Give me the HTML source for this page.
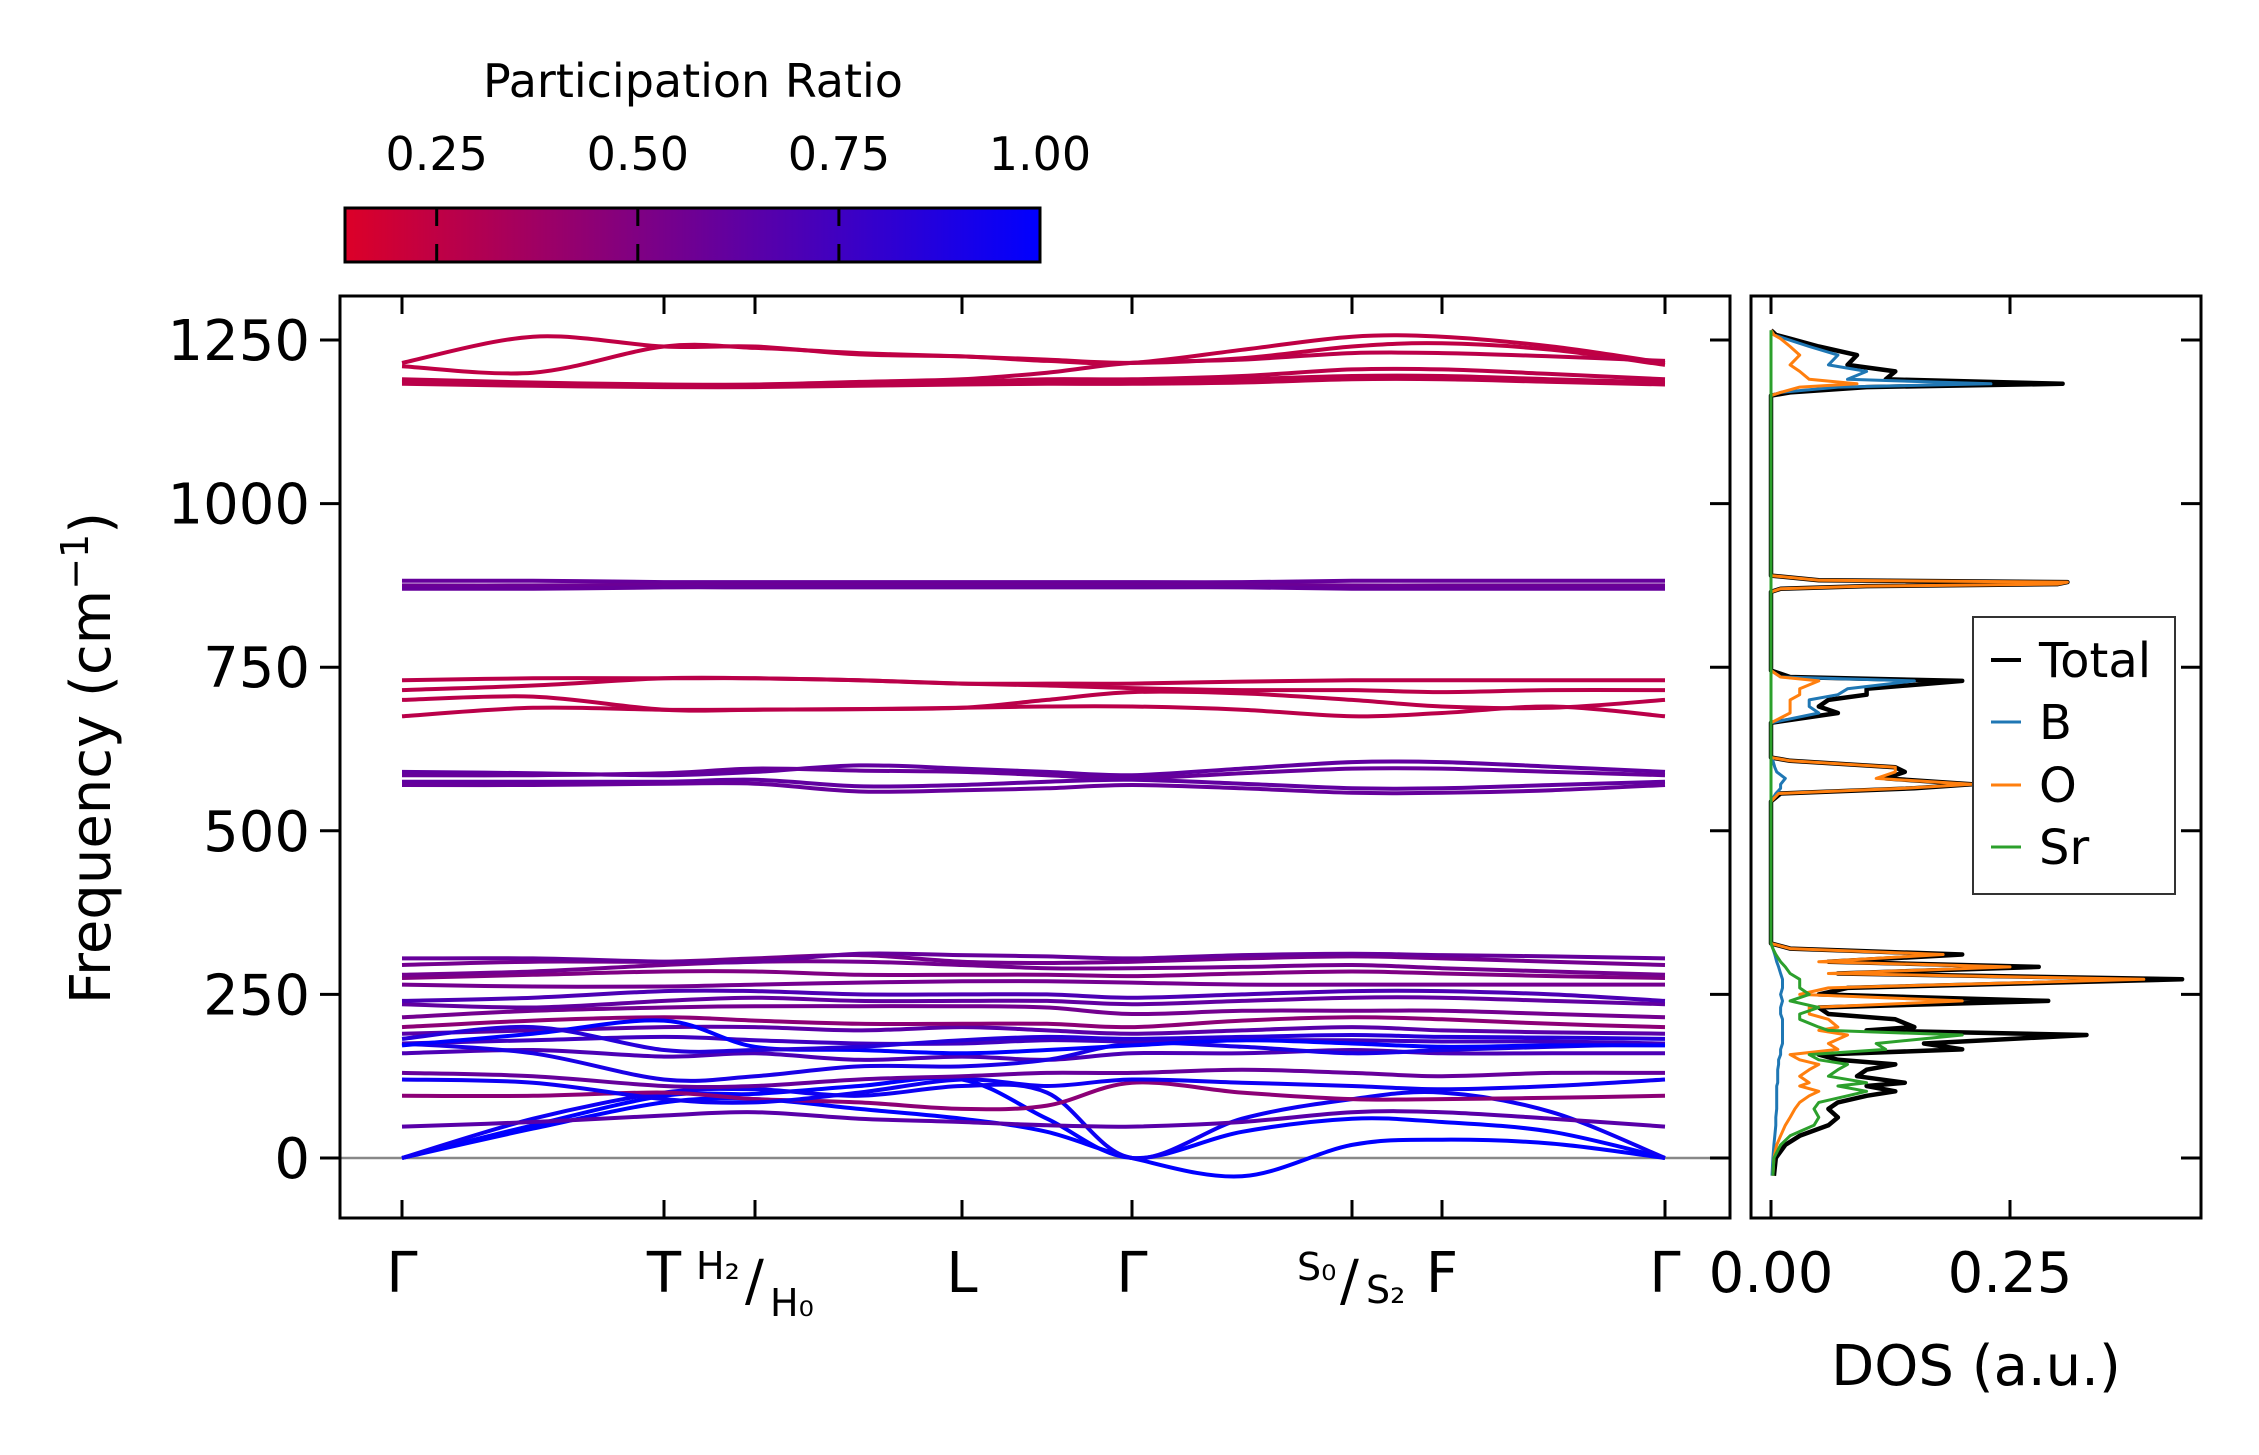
<!DOCTYPE html>
<html><head><meta charset="utf-8"><style>
html,body{margin:0;padding:0;background:#fff;}
svg{display:block;font-family:"DejaVu Sans","Liberation Sans",sans-serif;}
</style></head><body>
<svg id="fig" width="2259" height="1455" viewBox="0 0 2259 1455" xmlns="http://www.w3.org/2000/svg">
<defs>
<linearGradient id="cbgrad" x1="0" x2="1" y1="0" y2="0">
<stop offset="0" stop-color="rgb(220,0,40)"/><stop offset="1" stop-color="rgb(0,0,255)"/>
</linearGradient>
<clipPath id="mainclip"><rect x="340" y="296" width="1390" height="922"/></clipPath>
<clipPath id="dosclip"><rect x="1751" y="296" width="450" height="922"/></clipPath>
</defs>
<g id="colorbar">
<text x="693" y="97" font-size="46" text-anchor="middle">Participation Ratio</text>
<rect x="345" y="208" width="695" height="54" fill="url(#cbgrad)" stroke="#000" stroke-width="3"/>
</g>
<g id="bands" clip-path="url(#mainclip)"></g>
<g id="dos" clip-path="url(#dosclip)"></g>
<g id="axes"></g>
<g id="legend">
<rect x="1973" y="617" width="202" height="277" fill="#fff" stroke="#333" stroke-width="2"/>
</g>
</svg>
<script>
// ---- band structure data ----
const kNodes = [0, 2.62, 3.53, 5.60, 7.30, 9.50, 10.40, 12.63];
const kLabels = ["Γ", "T", "H", "L", "Γ", "S", "F", "Γ"];
const kSamples = [0,1.31,2.62,3.53,4.57,5.60,6.45,7.30,8.4,9.50,10.40,11.5,12.63];
const bandFreqs = [
 [1215,1255,1240,1240,1228,1225,1218,1215,1235,1255,1255,1240,1215],
 [1210,1200,1240,1238,1230,1225,1220,1215,1222,1240,1245,1235,1212],
 [1190,1185,1182,1182,1186,1190,1200,1215,1220,1230,1230,1225,1218],
 [1188,1183,1180,1180,1183,1186,1190,1190,1195,1205,1205,1198,1190],
 [1185,1182,1180,1180,1182,1185,1186,1186,1190,1195,1195,1190,1185],
 [1183,1180,1178,1178,1180,1182,1183,1183,1185,1190,1190,1186,1182],
 [882,882,880,880,880,880,880,880,880,882,882,882,882],
 [875,875,876,876,876,876,876,876,876,875,875,875,875],
 [870,870,872,872,872,872,872,872,872,870,870,870,870],
 [730,733,733,733,730,725,725,725,728,730,730,730,730],
 [715,722,733,733,730,725,722,718,715,715,712,715,715],
 [700,705,685,685,686,688,700,712,710,700,690,688,700],
 [675,688,685,685,686,688,690,690,685,675,680,690,675],
 [590,588,585,590,600,595,590,585,595,605,605,598,590],
 [585,585,588,595,592,590,585,580,588,595,595,590,585],
 [575,575,575,578,568,570,575,578,572,565,565,570,575],
 [570,570,572,572,560,562,565,570,565,558,558,562,570],
 [0,45,85,90,75,60,40,0,-28,20,28,22,0],
 [0,50,95,98,110,120,60,0,40,60,55,40,0],
 [0,60,100,105,95,110,100,0,60,90,100,70,0],
 [48,55,65,70,60,55,50,48,55,70,70,60,48],
 [95,95,100,90,85,75,80,115,100,90,90,92,95],
 [120,115,90,85,100,120,110,120,115,110,105,110,120],
 [130,125,110,110,120,125,130,130,135,130,125,130,130],
 [160,165,155,160,150,155,150,160,160,165,160,160,160],
 [175,160,120,125,140,140,150,175,170,160,165,170,175],
 [175,180,185,180,175,175,180,178,180,180,178,178,175],
 [190,195,200,200,195,200,195,190,195,200,195,192,190],
 [200,210,215,210,205,205,205,200,210,215,212,205,200],
 [215,225,230,232,232,232,230,220,225,225,225,220,215],
 [235,230,240,245,240,240,240,235,240,245,245,240,235],
 [240,245,255,255,250,250,250,245,250,255,255,250,240],
 [265,262,262,265,268,270,270,268,265,265,265,265,265],
 [275,280,285,285,280,280,280,278,282,285,282,278,275],
 [280,285,295,300,300,295,290,290,292,295,290,285,280],
 [295,300,300,305,310,300,298,300,305,308,305,300,295],
 [305,305,300,300,312,310,308,305,310,312,310,308,305],
 [172,190,210,170,165,160,165,172,180,175,170,172,172],
 [182,200,165,165,170,180,185,182,185,188,185,184,182]
];
const bandPR = [0.25,0.25,0.27,0.27,0.27,0.27,0.6,0.58,0.6,0.27,0.27,0.27,0.27,
 0.62,0.6,0.62,0.6,1.0,1.0,0.95,0.65,0.45,0.95,0.6,0.7,0.9,0.75,0.65,0.45,0.55,0.62,0.7,0.55,0.5,0.55,0.55,0.6,1.0,0.85];
const cbTicks = [0.25, 0.50, 0.75, 1.00];
const cbMin = 0.136, cbMax = 1.0;
const yTicks = [0, 250, 500, 750, 1000, 1250];
const dosTicks = [0.00, 0.25];

// ---- DOS data ----
const dosFreq = [-27,0,20,34,50,62,75,85,95,102,110,115,125,135,143,150,158,166,175,188,195,200,212,220,230,240,250,260,273,282,292,300,311,320,328,
 545,557,565,571,580,590,597,607,612,665,680,690,700,708,717,729,735,745,865,870,874,877,880,883,890,1165,1170,1178,1183,1190,1202,1212,1227,1240,1252,1258,1265];
const dosTotal = [.003,.005,.015,.03,.06,.07,.06,.07,.1,.13,.1,.14,.09,.1,.13,.07,.05,.2,.16,.33,.1,.15,.13,.06,.05,.29,.05,.08,.43,.07,.28,.06,.2,.02,0,
 0,.01,.15,.21,.12,.14,.13,.02,0,0,.07,.05,.06,.1,.1,.2,.02,0,0,.01,.1,.3,.31,.05,0,0,.02,.1,.305,.12,.13,.08,.09,.05,.02,.005,0];
const dosB = [.001,.002,.003,.004,.005,.005,.006,.006,.006,.006,.006,.007,.007,.007,.008,.008,.01,.01,.012,.012,.012,.012,.012,.01,.01,.012,.01,.012,.012,.01,.008,.006,.004,.002,0,
 0,.005,.01,.01,.015,.006,.004,.002,0,0,.05,.04,.04,.07,.08,.15,.01,0,0,0,0,0,0,0,0,0,.01,.07,.23,.08,.1,.06,.07,.04,.015,.003,0];
const dosO = [.002,.003,.006,.01,.015,.02,.025,.03,.04,.05,.03,.04,.03,.04,.05,.03,.02,.07,.06,.08,.05,.07,.06,.04,.04,.2,.03,.06,.39,.06,.25,.05,.18,.02,0,
 0,.008,.14,.21,.11,.13,.13,.02,0,0,.02,.02,.02,.03,.03,.05,.01,0,0,.01,.1,.3,.31,.05,0,0,.01,.03,.09,.04,.03,.02,.03,.02,.01,.003,0];
const dosSr = [.002,.003,.01,.02,.045,.05,.045,.05,.08,.1,.07,.1,.06,.07,.08,.05,.04,.12,.11,.2,.06,.05,.03,.03,.05,.02,.04,.03,.03,.02,.015,.01,.005,.002,0,
 0,0,0,0,0,0,0,0,0,0,0,0,0,0,0,0,0,0,0,0,0,0,0,0,0,0,0,0,0,0,0,0,0,0,0,0,0];

const NS = "http://www.w3.org/2000/svg";
function el(tag, attrs, parent){ const e=document.createElementNS(NS,tag); for(const k in attrs) e.setAttribute(k,attrs[k]); parent.appendChild(e); return e; }
const X0=340, X1=1730, Y0=296, Y1=1218;
const yScale = f => 1158 - f*(818/1250);
const kScale = k => 402 + (k/12.63)*(1665-402);
const dosScale = d => 1771 + d*956;
const cbScale = v => 345 + (v-cbMin)/(cbMax-cbMin)*695;
function prColor(p){ const t=Math.max(0,Math.min(1,(p-cbMin)/(cbMax-cbMin))); return `rgb(${Math.round(220*(1-t))},0,${Math.round(40+215*t)})`; }
function smoothPath(pts){
  let d=`M${pts[0][0].toFixed(1)},${pts[0][1].toFixed(1)}`;
  for(let i=0;i<pts.length-1;i++){
    const p0=pts[Math.max(0,i-1)],p1=pts[i],p2=pts[i+1],p3=pts[Math.min(pts.length-1,i+2)];
    const c1=[p1[0]+(p2[0]-p0[0])/6,p1[1]+(p2[1]-p0[1])/6], c2=[p2[0]-(p3[0]-p1[0])/6,p2[1]-(p3[1]-p1[1])/6];
    d+=` C${c1[0].toFixed(1)},${c1[1].toFixed(1)} ${c2[0].toFixed(1)},${c2[1].toFixed(1)} ${p2[0].toFixed(1)},${p2[1].toFixed(1)}`;
  }
  return d;
}
// colorbar ticks
const cb=document.getElementById('colorbar');
cbTicks.forEach(v=>{
  const x=cbScale(v);
  if(v<1){ const t=el('line',{x1:x,x2:x,y1:208,y2:262,stroke:'#000','stroke-width':3,'stroke-dasharray':'18 18','stroke-dashoffset':'0'},cb);
  
   }
  const l=el('text',{x:x,y:170,'font-size':46,'text-anchor':'middle'},cb); l.textContent=v.toFixed(2);
  
  
});
// bands
const bg=document.getElementById('bands');
const zl=el('line',{x1:X0,x2:X1,y1:yScale(0),y2:yScale(0),stroke:'#888','stroke-width':2.5},bg);


bandFreqs.forEach((fs,i)=>{
  const pts=fs.map((f,j)=>[kScale(kSamples[j]),yScale(f)]);
  const p=el('path',{d:smoothPath(pts),fill:'none',stroke:prColor(bandPR[i]),'stroke-width':4},bg);
  
  
});
// DOS
const dg=document.getElementById('dos');
[[dosTotal,'#000',4.5,'dos-total'],[dosB,'#1f77b4',3,'dos-b'],[dosO,'#ff7f0e',3,'dos-o'],[dosSr,'#2ca02c',3,'dos-sr']].forEach(s=>{
  const pts=dosFreq.map((f,j)=>`${dosScale(s[0][j]).toFixed(1)},${yScale(f).toFixed(1)}`).join(' ');
  const pl=el('polyline',{points:pts,fill:'none',stroke:s[1],'stroke-width':s[2],'stroke-linejoin':'round'},dg);
  
  
});
// axes
const ax=document.getElementById('axes');
const f1=el('rect',{x:X0,y:Y0,width:X1-X0,height:Y1-Y0,fill:'none',stroke:'#000','stroke-width':3},ax);


const f2=el('rect',{x:1751,y:Y0,width:450,height:Y1-Y0,fill:'none',stroke:'#000','stroke-width':3},ax);


yTicks.forEach(v=>{
  const y=yScale(v);
  el('line',{x1:X0-20,x2:X0,y1:y,y2:y,stroke:'#000','stroke-width':3},ax);
  el('line',{x1:X1-20,x2:X1,y1:y,y2:y,stroke:'#000','stroke-width':3},ax);
  el('line',{x1:2181,x2:2201,y1:y,y2:y,stroke:'#000','stroke-width':3},ax);
  const t=el('text',{x:X0-30,y:y+20,'font-size':56,'text-anchor':'end'},ax); t.textContent=v;
  
  
});
kNodes.forEach(k=>{
  const x=kScale(k);
  el('line',{x1:x,x2:x,y1:Y0,y2:Y0+18,stroke:'#000','stroke-width':3},ax);
  el('line',{x1:x,x2:x,y1:Y1-18,y2:Y1,stroke:'#000','stroke-width':3},ax);
});
[[0,'Γ'],[1,'T'],[3,'L'],[4,'Γ'],[6,'F'],[7,'Γ']].forEach(([i,s])=>{
  const t=el('text',{x:kScale(kNodes[i]),y:1292,'font-size':56,'text-anchor':'middle'},ax); t.textContent=s;
  
  
});
dosTicks.forEach(v=>{
  const x=dosScale(v);
  el('line',{x1:x,x2:x,y1:Y0,y2:Y0+18,stroke:'#000','stroke-width':3},ax);
  el('line',{x1:x,x2:x,y1:Y1-18,y2:Y1,stroke:'#000','stroke-width':3},ax);
  const t=el('text',{x:x,y:1292,'font-size':56,'text-anchor':'middle'},ax); t.textContent=v.toFixed(2);
  
  
});
</script>
<svg style="position:absolute;left:0;top:0" width="2259" height="1455" xmlns="http://www.w3.org/2000/svg" font-family="DejaVu Sans, Liberation Sans, sans-serif">
<text font-size="38"><tspan x="696" y="1279">H₂</tspan></text>
<text x="745" y="1300" font-size="56">/</text>
<text x="770" y="1316" font-size="38">H₀</text>
<text x="1297" y="1280" font-size="38">S₀</text>
<text x="1340" y="1300" font-size="56">/</text>
<text x="1366" y="1303" font-size="38">S₂</text>
<text transform="translate(110,758) rotate(-90)" font-size="56" text-anchor="middle">Frequency (cm<tspan font-size="38" dy="-22">−1</tspan><tspan dy="22">)</tspan></text>
<text x="1976" y="1385" font-size="56" text-anchor="middle">DOS (a.u.)</text>
<g font-size="48">
<line x1="1991" x2="2021" y1="660" y2="660" stroke="#000" stroke-width="4"/><text x="2039" y="677">Total</text>
<line x1="1991" x2="2021" y1="722" y2="722" stroke="#1f77b4" stroke-width="3"/><text x="2039" y="739">B</text>
<line x1="1991" x2="2021" y1="785" y2="785" stroke="#ff7f0e" stroke-width="3"/><text x="2039" y="802">O</text>
<line x1="1991" x2="2021" y1="847" y2="847" stroke="#2ca02c" stroke-width="3"/><text x="2039" y="864">Sr</text>
</g>
</svg>
</body></html>
